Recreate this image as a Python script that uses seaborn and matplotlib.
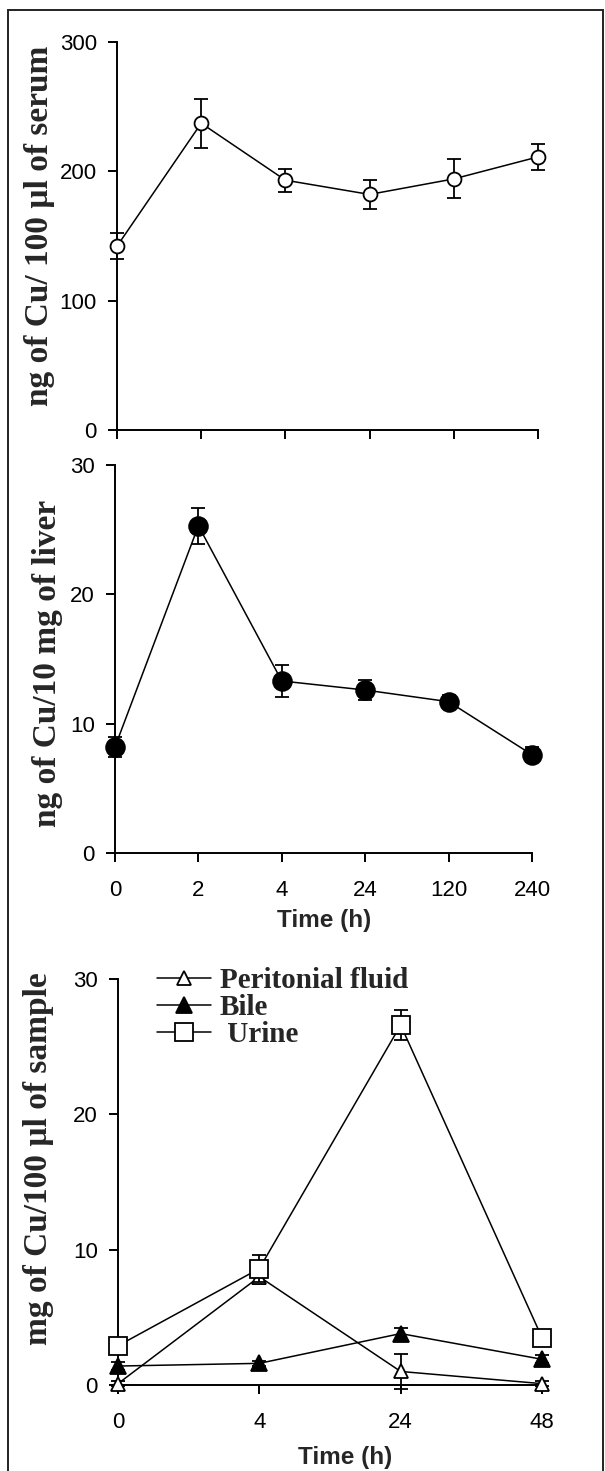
import numpy as np
import pandas as pd
import matplotlib
matplotlib.use("Agg")
import matplotlib.pyplot as plt
from matplotlib.patches import Rectangle
import seaborn as sns

# values (mean +/- error)
times_long = ["0", "2", "4", "24", "120", "240"]
serum_cu = [142, 237, 193, 182, 194, 211]
serum_err = [10, 19, 9, 11, 15, 10]
liver_cu = [8.2, 25.3, 13.3, 12.6, 11.7, 7.6]
liver_err = [0.8, 1.4, 1.2, 0.8, 0.5, 0.6]

times_short = ["0", "4", "24", "48"]
peritonial = [0.1, 8.0, 1.0, 0.1]
peritonial_err = [0.2, 0.5, 1.3, 0.2]
bile = [1.4, 1.6, 3.8, 1.9]
bile_err = [0.3, 0.2, 0.4, 0.3]
urine = [2.9, 8.6, 26.6, 3.5]
urine_err = [0.3, 1.0, 1.1, 0.4]

sns.set_style("ticks")
plt.rcParams["font.family"] = ["Liberation Sans", "DejaVu Sans"]
SERIF = ["Liberation Serif", "DejaVu Serif"]

W, H = 605, 1471
fig = plt.figure(figsize=(W / 100, H / 100), dpi=100)


def px_axes(left, top, right, bottom):
    # pixel box of the plotting area -> figure fraction
    return fig.add_axes([left / W, 1 - bottom / H, (right - left) / W, (bottom - top) / H])


ax1 = px_axes(117, 41.7, 538, 430)
ax2 = px_axes(115, 465, 532, 853)
ax3 = px_axes(118, 979, 542, 1385)


def draw_series(ax, cats, vals, errs, marker, face, ms, label=None, z=3):
    df = pd.DataFrame({"pos": np.arange(len(cats)), "val": vals})
    ax.errorbar(df["pos"], df["val"], yerr=errs, fmt="none", ecolor="black",
                elinewidth=1.3, capsize=5, capthick=1.3, zorder=z - 0.5, clip_on=False)
    n_before = len(ax.lines)
    sns.lineplot(data=df, x="pos", y="val", ax=ax, color="black", lw=1.1,
                 marker=marker, markersize=ms, markerfacecolor=face,
                 markeredgecolor="black", markeredgewidth=1.3, label=label,
                 zorder=z, legend=False)
    for ln in ax.lines[n_before:]:
        ln.set_clip_on(False)


def style_axis(ax, cats, ymax, ystep, show_xlabels=True):
    ax.set_xlim(0, len(cats) - 1)
    ax.set_ylim(0, ymax)
    ax.set_xticks(np.arange(len(cats)))
    ax.set_xticklabels(cats if show_xlabels else [])
    ax.set_yticks(np.arange(0, ymax + 1e-9, ystep))
    ax.tick_params(axis="both", direction="out", length=6.5, width=1.4,
                   labelsize=16, colors="black")
    ax.tick_params(axis="y", pad=8)
    ax.tick_params(axis="x", pad=13)
    sns.despine(ax=ax)
    for s in ("left", "bottom"):
        ax.spines[s].set_linewidth(1.4)
        ax.spines[s].set_color("black")
    ax.set_xlabel("")
    ax.set_ylabel("")


# serum
draw_series(ax1, times_long, serum_cu, serum_err, "o", "white", 10)
style_axis(ax1, times_long, 300, 100, show_xlabels=False)
ax1.set_ylabel("ng of Cu/ 100 \u00b5l of serum", family=SERIF, fontweight="bold",
               fontsize=24)
ax1.yaxis.set_label_coords(-0.148, 0.527)

# liver
draw_series(ax2, times_long, liver_cu, liver_err, "o", "black", 13.5)
style_axis(ax2, times_long, 30, 10)
ax2.set_ylabel("ng of Cu/10 mg of liver", family=SERIF, fontweight="bold",
               fontsize=24)
ax2.yaxis.set_label_coords(-0.124, 0.488)
ax2.set_xlabel("Time (h)", fontweight="bold", fontsize=17.5)
ax2.xaxis.set_label_coords(0.501, -0.144)

# peritonial fluid, bile, urine
draw_series(ax3, times_short, peritonial, peritonial_err, "^", "white", 10,
            label="Peritonial fluid", z=3)
draw_series(ax3, times_short, bile, bile_err, "^", "black", 12, label="Bile", z=4)
draw_series(ax3, times_short, urine, urine_err, "s", "white", 13, label=" Urine", z=5)
style_axis(ax3, times_short, 30, 10)
ax3.set_ylabel("mg of Cu/100 \u00b5l of sample", family=SERIF, fontweight="bold",
               fontsize=24)
ax3.yaxis.set_label_coords(-0.150, 0.557)
ax3.set_xlabel("Time (h)", fontweight="bold", fontsize=17.5)
ax3.xaxis.set_label_coords(0.535, -0.150)

leg = ax3.legend(loc="upper left", bbox_to_anchor=(157 / W, 1 - 967 / H),
                 bbox_transform=fig.transFigure, frameon=False, borderpad=0,
                 borderaxespad=0, handlelength=1.85, handletextpad=0.3,
                 labelspacing=0.0, prop={"family": SERIF, "weight": "bold", "size": 21})

# outer frame of the figure panel
fig.patches.append(Rectangle((8 / W, -0.01), 595 / W, 1 - 10 / H + 0.01,
                             transform=fig.transFigure, fill=False,
                             edgecolor="#222222", lw=1.4))

fig.savefig("out.png", dpi=100, facecolor="white")
